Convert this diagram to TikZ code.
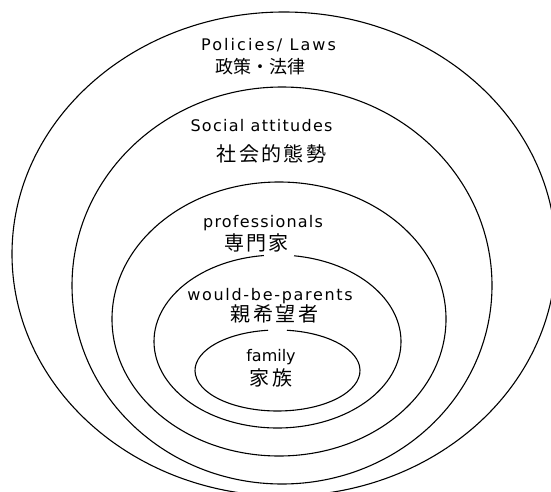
\documentclass[tikz,border=0pt]{standalone}
\usepackage{fontspec}
\newfontfamily\latA[LetterSpace=13]{DejaVu Sans}
\newfontfamily\latB[LetterSpace=8]{DejaVu Sans}
\newfontfamily\latC[LetterSpace=7.5]{DejaVu Sans}
\newfontfamily\latD[LetterSpace=10.6]{DejaVu Sans}
\newfontfamily\latE{DejaVu Sans}
\newfontfamily\cjk[LetterSpace=12]{Noto Sans CJK JP}
\newfontfamily\cjkP{Noto Sans CJK JP}
\tikzset{
  ring/.style={draw=black, line width=1.1pt},
  lbl/.style={inner sep=0pt, anchor=center, text=black},
  en/.style={lbl, font=\fontsize{16pt}{18pt}\selectfont},
  jp/.style={lbl, font=\fontsize{20pt}{22pt}\selectfont\cjk},
}
\begin{document}
\begin{tikzpicture}[x=1pt,y=1pt]
\useasboundingbox (0,0) rectangle (551,491);
\fill[white] (0,0) rectangle (551,491);
\clip (0,0) rectangle (551,491);
% rings
\draw[ring] (284,237) ellipse [x radius=272pt, y radius=242pt];
\draw[ring] (282,205.5) ellipse [x radius=210pt, y radius=198.5pt];
\draw[ring] (279,172) ellipse [x radius=167pt, y radius=137pt];
\draw[ring] (277.5,149.5) ++(96.3:123.5pt and 86.5pt)
  arc[start angle=96.3, end angle=442.3, x radius=123.5pt, y radius=86.5pt];
\draw[ring] (277.5,120.5) ++(96.6:82.5pt and 40.5pt)
  arc[start angle=96.6, end angle=443.4, x radius=82.5pt, y radius=40.5pt];
% labels
\node[en] (pol) at (268.5,445.5) {\latA Policies/ Laws};
\node[lbl, font=\fontsize{18pt}{20pt}\selectfont\cjkP] (polj) at (260,424) {政策・法律};
\node[en] (soc) at (261.5,365) {\latB Social attitudes};
\node[jp] (socj) at (271.5,337) {社会的態勢};
\node[en] (pro) at (263,267.5) {\latC professionals};
\node[jp] (proj) at (256.5,248) {専門家};
\node[en] (wbp) at (270,194.5) {\latD would-be-parents};
\node[jp] (wbpj) at (274.5,177) {親希望者};
\node[en] (fam) at (271,133.5) {\latE family};
\node[jp] (famj) at (271,113.5) {家族};
\end{tikzpicture}
\end{document}
